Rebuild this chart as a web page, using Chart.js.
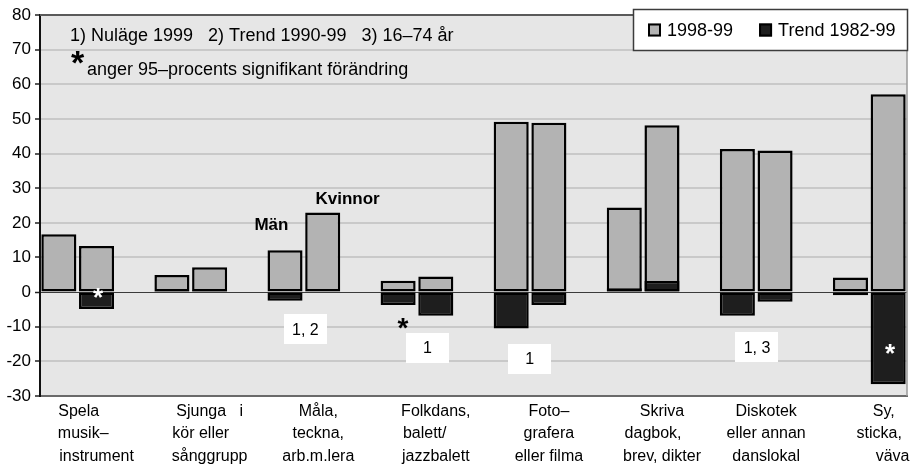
<!DOCTYPE html>
<html lang="sv">
<head>
<meta charset="utf-8">
<title>Kulturella aktiviteter – nuläge och trend</title>
<script src="https://cdn.jsdelivr.net/npm/chart.js@4/dist/chart.umd.min.js"></script>
<style>
  html, body { margin: 0; padding: 0; background: #fff; }
  canvas { display: block; }
</style>
</head>
<body>
<canvas id="chart" width="917" height="468"></canvas>
<script>
// Activity groups (multi-line axis labels)
const categories = [
  ['Spela        ', 'musik–      ', 'instrument'],
  ['Sjunga   i', 'kör eller    ', 'sånggrupp'],
  ['Måla,  ', 'teckna,  ', 'arb.m.lera  '],
  ['Folkdans,', 'balett/     ', 'jazzbalett'],
  ['Foto–', 'grafera', 'eller filma'],
  ['Skriva', 'dagbok,    ', 'brev, dikter'],
  ['Diskotek    ', 'eller annan    ', 'danslokal    '],
  ['Sy,  ', 'sticka,    ', '  väva']
];

// Share 1998-99, per cent
const levelMen   = [16.7, 4.9, 12.1, 3.3, 49.2, 24.4, 41.3, 4.2];
const levelWomen = [13.3, 7.2, 23.0, 4.5, 48.9, 48.2, 40.9, 57.1];

// Trend 1982-99, percentage points
const trendMen   = [0.2, 0.3, -2.5, -3.7, -10.5, 1.1, -6.8, -0.9];
const trendWomen = [-4.9, 0.5, 0.1, -6.8, -3.7, 3.2, -2.8, -26.6];

// Value axis ticks
const valueTicks = [-30, -20, -10, 0, 10, 20, 30, 40, 50, 60, 70, 80];

const seriesNames = ['1998-99', 'Trend 1982-99'];

// Slot axis: each group has a Män slot, a Kvinnor slot and an empty gap slot
const slotLabels = [], slotLevel = [], slotTrend = [];
categories.forEach((cat, i) => {
  slotLabels.push('', cat);
  slotLevel.push(levelMen[i], levelWomen[i]);
  slotTrend.push(trendMen[i], trendWomen[i]);
  if (i < categories.length - 1) {
    slotLabels.push('');
    slotLevel.push(null);
    slotTrend.push(null);
  }
});

const FONT = "'Liberation Sans', Arial, Helvetica, sans-serif";
const GREY = '#b3b3b3';
const BLACK = '#1e1e1e';

// Text placed on the plot, positioned in slot / value units
const notes = [
  { text: 'Män',     slot: 5.64,  value: 19.6,  bold: true },
  { text: 'Kvinnor', slot: 7.66,  value: 27.0,  bold: true },
  { text: '1, 2',    slot: 6.54,  value: -10.7, box: true },
  { text: '1',       slot: 9.78,  value: -16.0, box: true },
  { text: '1',       slot: 12.49, value: -19.3, box: true },
  { text: '1, 3',    slot: 18.52, value: -15.9, box: true }
];
// Significance markers
const stars = [
  { slot: 1.04,  value: -0.2,  color: '#fff', size: 26 },
  { slot: 9.13,  value: -9.2,  color: '#000', size: 28 },
  { slot: 22.05, value: -16.5, color: '#fff', size: 26 }
];

function drawStar(ctx, x, y, size, color) {
  ctx.save();
  ctx.font = `bold ${size}px ${FONT}`;
  ctx.fillStyle = color;
  ctx.textAlign = 'center';
  ctx.textBaseline = 'alphabetic';
  const m = ctx.measureText('*');
  const inkMid = (m.actualBoundingBoxAscent - m.actualBoundingBoxDescent) / 2;
  ctx.fillText('*', x, y + inkMid);
  ctx.restore();
}

const decor = {
  id: 'decor',
  beforeDraw(chart) {
    const { ctx, chartArea: a } = chart;
    ctx.save();
    ctx.fillStyle = '#e6e6e6';
    ctx.fillRect(a.left, a.top, a.right - a.left, a.bottom - a.top);
    ctx.restore();
  },
  afterDatasetsDraw(chart) {
    const { ctx } = chart;
    const xs = chart.scales.x, ys = chart.scales.y;
    notes.forEach(n => {
      const x = xs.getPixelForValue(n.slot);
      const y = ys.getPixelForValue(n.value);
      ctx.save();
      if (n.box) {
        ctx.fillStyle = '#fff';
        ctx.fillRect(Math.round(x - 21.5), Math.round(y - 15), 43, 30);
      }
      ctx.fillStyle = '#000';
      ctx.font = (n.bold ? 'bold 17px ' : '16px ') + FONT;
      ctx.textAlign = 'center';
      ctx.textBaseline = 'middle';
      ctx.fillText(n.text, x, y + 1);
      ctx.restore();
    });
    stars.forEach(s => {
      drawStar(ctx, xs.getPixelForValue(s.slot), ys.getPixelForValue(s.value), s.size, s.color);
    });
  },
  afterDraw(chart) {
    const { ctx, chartArea: a } = chart;
    ctx.save();
    // frame: top and right edges of the plot
    ctx.strokeStyle = '#5a5a5a';
    ctx.lineWidth = 2;
    ctx.beginPath();
    ctx.moveTo(a.left, a.top);
    ctx.lineTo(a.right, a.top);
    ctx.stroke();
    ctx.strokeStyle = '#9a9a9a';
    ctx.lineWidth = 1.5;
    ctx.beginPath();
    ctx.moveTo(a.right, a.top);
    ctx.lineTo(a.right, a.bottom);
    ctx.stroke();

    // footnote text at top left
    ctx.fillStyle = '#000';
    ctx.font = `18px ${FONT}`;
    ctx.textAlign = 'left';
    ctx.textBaseline = 'alphabetic';
    ctx.fillText('1) Nuläge 1999   2) Trend 1990-99   3) 16–74 år', a.left + 30, a.top + 26);
    ctx.fillText('anger 95–procents signifikant förändring', a.left + 47, a.top + 59.5);
    ctx.restore();
    drawStar(ctx, a.left + 37.5, a.top + 42.5, 34, '#000');

    // legend box
    ctx.save();
    const bw = 275, bh = 42;
    const bx = a.right + 1 - bw, by = a.top - 6;
    ctx.fillStyle = '#fff';
    ctx.fillRect(bx, by, bw, bh);
    ctx.strokeStyle = '#3c3c3c';
    ctx.lineWidth = 1.5;
    ctx.strokeRect(bx + 0.5, by + 0.5, bw - 1, bh - 1);
    ctx.font = `18px ${FONT}`;
    ctx.textBaseline = 'middle';
    const fills = [GREY, BLACK];
    let lx = bx + 15;
    const cy = by + bh / 2;
    seriesNames.forEach((name, i) => {
      ctx.fillStyle = fills[i];
      ctx.fillRect(lx, cy - 6.5, 13, 13);
      ctx.strokeStyle = '#000';
      ctx.lineWidth = 2;
      ctx.strokeRect(lx + 1, cy - 5.5, 11, 11);
      ctx.fillStyle = '#000';
      ctx.fillText(name, lx + 19, cy + 1);
      lx += 19 + ctx.measureText(name).width + 26;
    });
    ctx.restore();
  }
};

const barStyle = {
  borderColor: '#000',
  borderWidth: 2.5,
  borderSkipped: false,
  grouped: false,
  categoryPercentage: 1,
  barPercentage: 0.93
};

new Chart(document.getElementById('chart'), {
  type: 'bar',
  data: {
    labels: slotLabels,
    datasets: [
      Object.assign({ label: seriesNames[0], data: slotLevel, backgroundColor: GREY, order: 2 }, barStyle),
      Object.assign({ label: seriesNames[1], data: slotTrend, backgroundColor: BLACK, order: 1 }, barStyle)
    ]
  },
  options: {
    responsive: false,
    animation: false,
    devicePixelRatio: 1,
    layout: { padding: { top: 15, right: 10, left: 0, bottom: 0 } },
    plugins: {
      legend: { display: false },
      tooltip: { enabled: false }
    },
    scales: {
      x: {
        offset: true,
        grid: { display: false, drawTicks: false },
        border: { color: '#6a6a6a', width: 2 },
        ticks: {
          autoSkip: false,
          maxRotation: 0,
          minRotation: 0,
          padding: 4,
          color: '#000',
          font: { family: FONT, size: 16, lineHeight: 1.41 }
        },
        afterFit(s) { s.height = 72; s.paddingLeft = 0; s.paddingRight = 0; }
      },
      y: {
        min: valueTicks[0],
        max: valueTicks[valueTicks.length - 1],
        afterBuildTicks(s) { s.ticks = valueTicks.map(v => ({ value: v })); },
        ticks: {
          padding: 4,
          color: '#000',
          font: { family: FONT, size: 17 }
        },
        grid: {
          color: c => (c.tick && c.tick.value === 0) ? '#3a3a3a' : '#c9c9c9',
          lineWidth: c => (c.tick && c.tick.value === 0) ? 1 : 2,
          tickColor: '#222',
          tickLength: 5,
          tickWidth: 1.5
        },
        border: { color: '#111', width: 2 },
        afterFit(s) { s.width = 40; s.paddingTop = 0; s.paddingBottom = 0; }
      }
    }
  },
  plugins: [decor]
});
</script>
</body>
</html>
